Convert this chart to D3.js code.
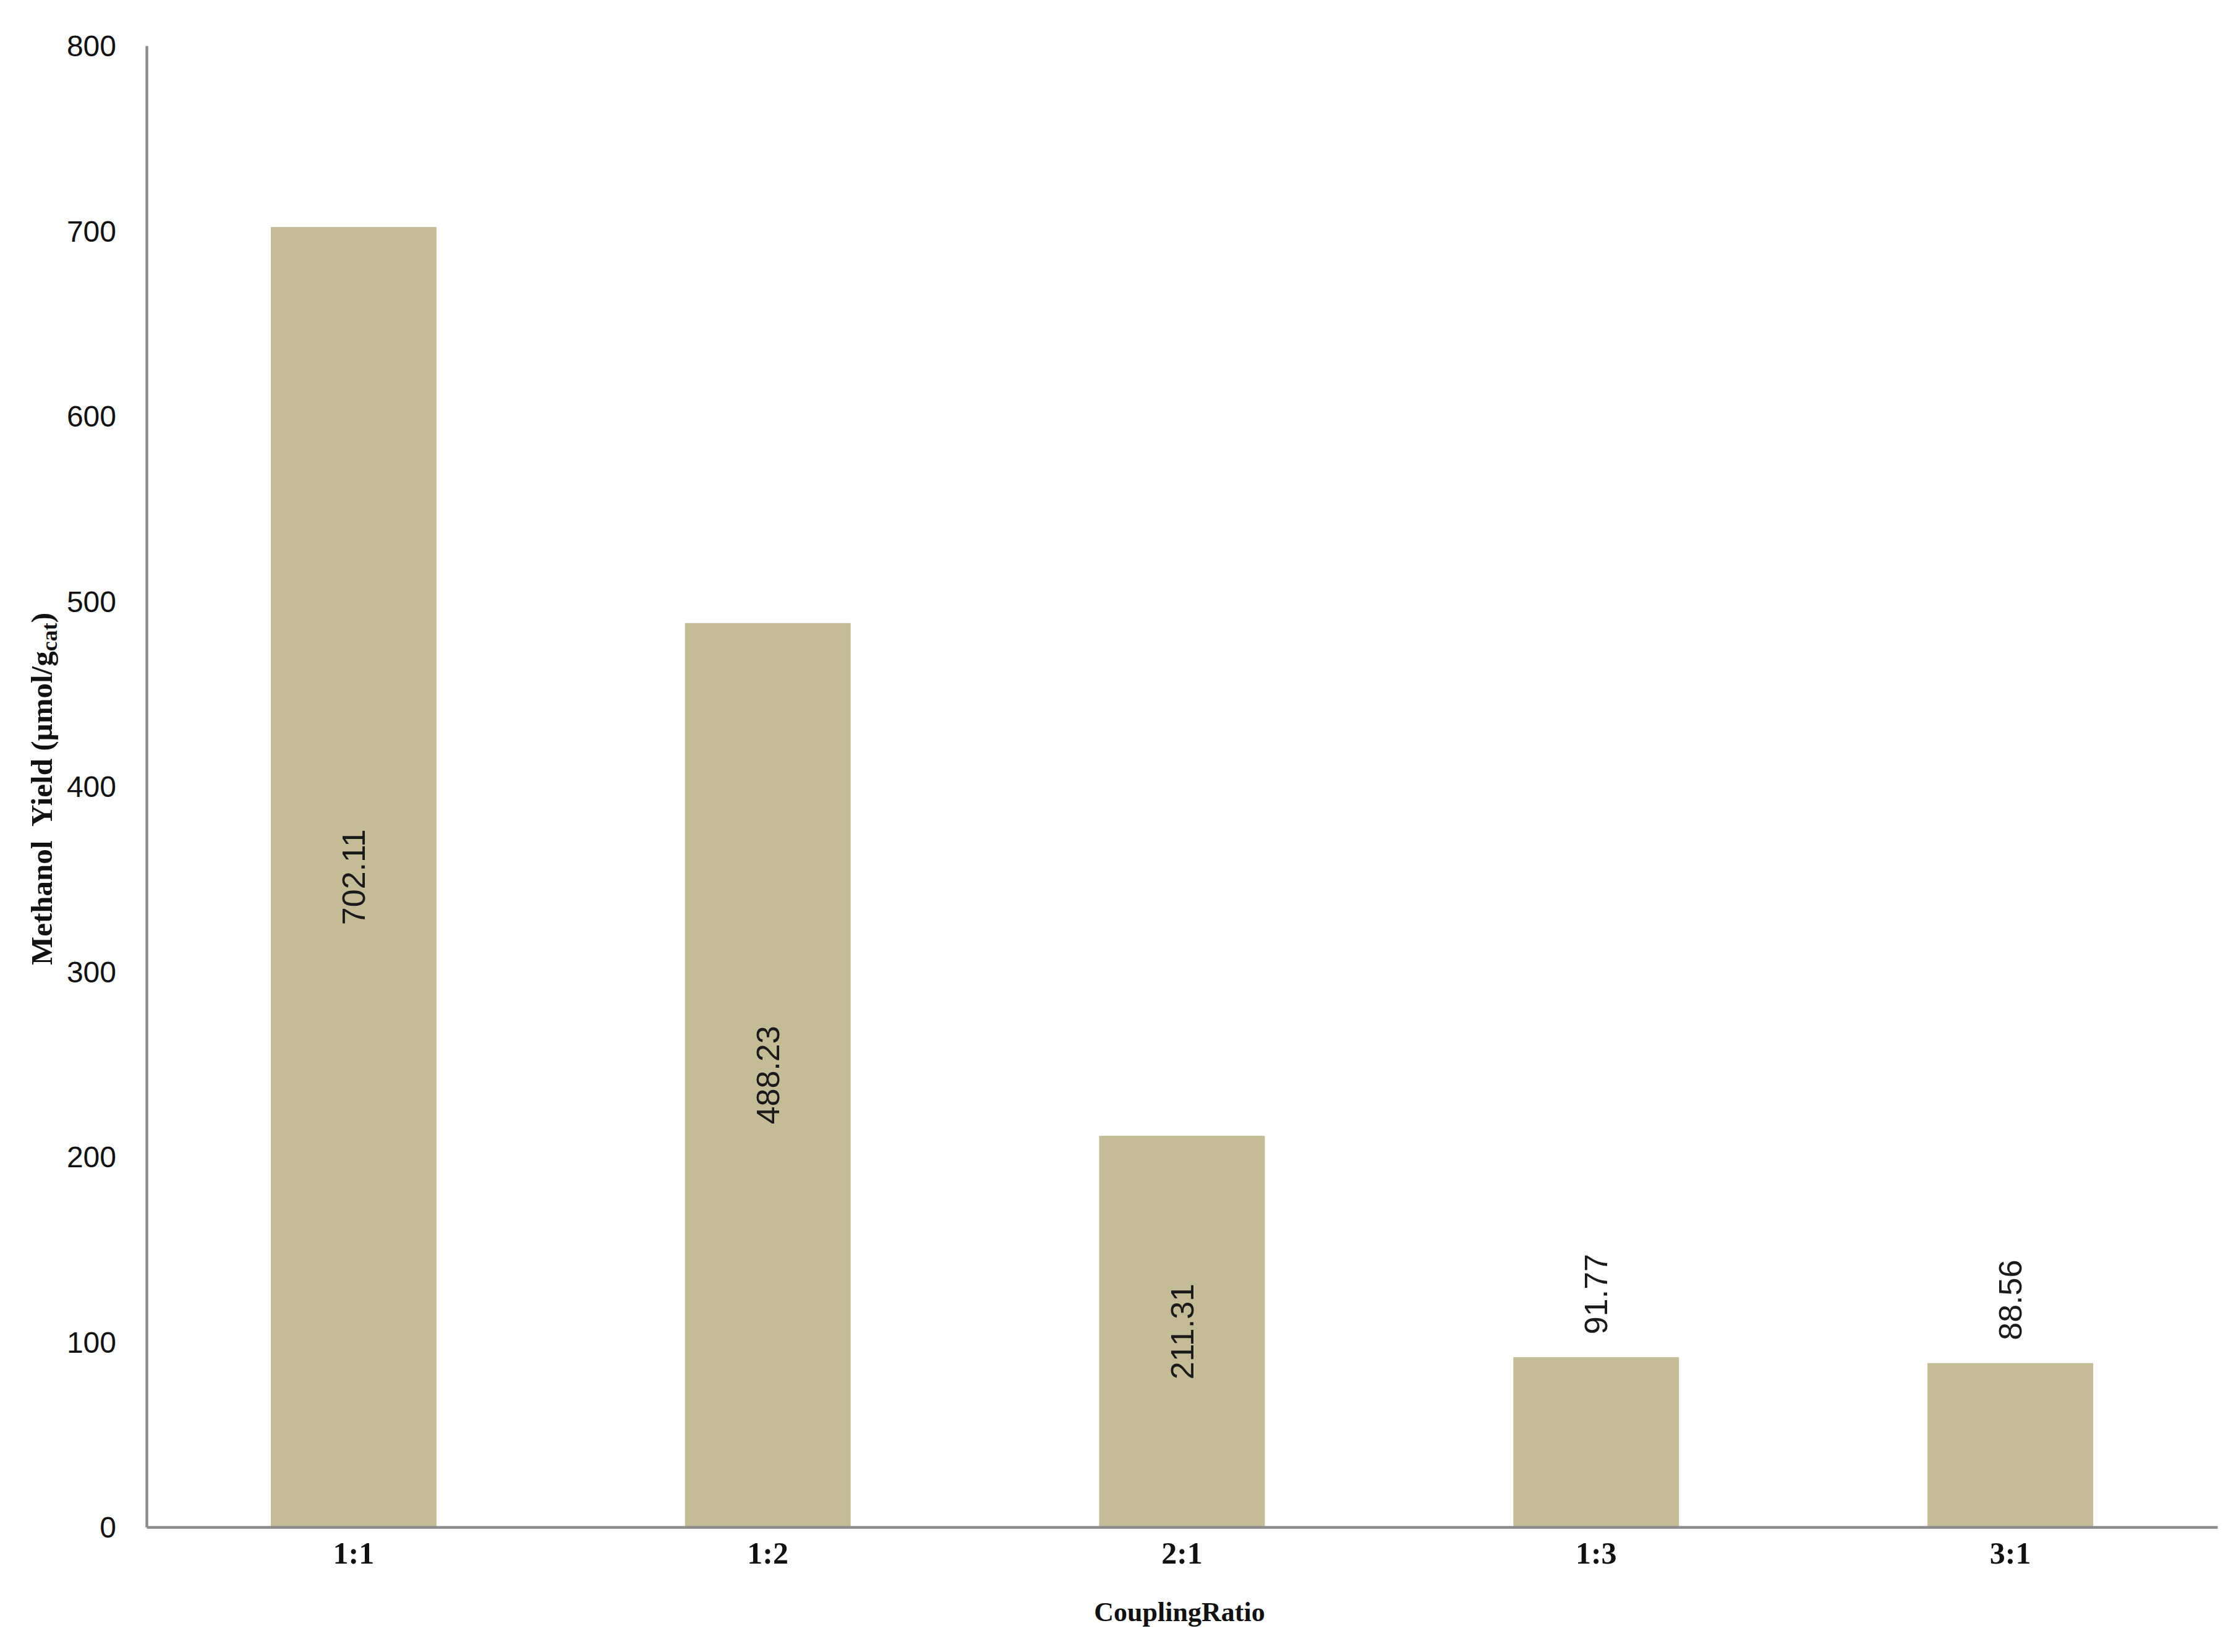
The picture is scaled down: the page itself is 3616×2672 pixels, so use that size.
<!DOCTYPE html>
<html>
<head>
<meta charset="utf-8">
<script src="https://cdn.jsdelivr.net/npm/d3@7"></script>
<style>
	html, body { margin: 0; padding: 0; background: #fff; }
	svg { display: block; }
</style>
</head>
<body>
<div id="chart"></div>
<script>

const categories = ["1:1", "1:2", "2:1", "1:3", "3:1"];
const yields = [702.11, 488.23, 211.31, 91.77, 88.56];
const valueLabels = ["702.11", "488.23", "211.31", "91.77", "88.56"];
const yTicks = [0, 100, 200, 300, 400, 500, 600, 700, 800];

const WIDTH = 3616;
const HEIGHT = 2672;
const BAR_COLOR = "#c4bc96";
const AXIS_COLOR = "#8c8c8c";

const margin = { top: 74, right: 30, bottom: 202, left: 237 };
const width = WIDTH - margin.left - margin.right;
const height = HEIGHT - margin.top - margin.bottom;

const svg = d3.select("#chart").append("svg")
	.attr("width", WIDTH)
	.attr("height", HEIGHT);

const g = svg.append("g")
	.attr("transform", `translate(${margin.left},${margin.top})`);

const x = d3.scaleBand()
	.domain(categories)
	.range([0, width])
	.paddingInner(0.6)
	.paddingOuter(0.3);

const y = d3.scaleLinear()
	.domain([0, 800])
	.range([height, 0]);

// bars
g.selectAll(".bar")
	.data(categories)
	.enter()
	.append("rect")
	.attr("class", "bar")
	.attr("x", d => x(d))
	.attr("y", (d, i) => y(yields[i]))
	.attr("width", x.bandwidth())
	.attr("height", (d, i) => height - y(yields[i]))
	.attr("fill", BAR_COLOR);

// y axis (no tick marks)
const axisY = d3.axisLeft(y)
	.tickValues(yTicks)
	.tickSize(0)
	.tickPadding(49)
	.tickFormat(d3.format("d"));

const gY = g.append("g").call(axisY);
gY.select(".domain").attr("stroke", AXIS_COLOR).attr("stroke-width", 4.5);
gY.selectAll("text")
	.attr("font-family", "'Liberation Sans', Arial, sans-serif")
	.attr("font-size", 48)
	.attr("fill", "#111")
	.attr("dy", "0.35em");

// x axis
const axisX = d3.axisBottom(x)
	.tickSize(0)
	.tickPadding(0);

const gX = g.append("g")
	.attr("transform", `translate(0,${height})`)
	.call(axisX);
gX.select(".domain").attr("stroke", AXIS_COLOR).attr("stroke-width", 4.5);
gX.selectAll("text")
	.attr("font-family", "'Liberation Serif', 'Times New Roman', serif")
	.attr("font-weight", "bold")
	.attr("font-size", 50)
	.attr("fill", "#111")
	.attr("y", 59)
	.attr("dy", 0);

// value labels, rotated; inside the bar when it fits, above it otherwise
const labels = g.selectAll(".value")
	.data(categories)
	.enter()
	.append("text")
	.attr("class", "value")
	.attr("font-family", "'Liberation Sans', Arial, sans-serif")
	.attr("font-size", 52)
	.attr("fill", "#1a1a1a")
	.attr("dominant-baseline", "central")
	.text((d, i) => valueLabels[i]);

labels.each(function (d, i) {
	let cx = x(d) + x.bandwidth() / 2;
	let top = y(yields[i]);
	let barH = height - top;
	let len = this.getComputedTextLength();
	let sel = d3.select(this);
	if (barH > len + 200) {
		sel.attr("text-anchor", "middle")
			.attr("transform", `translate(${cx},${top + barH / 2}) rotate(-90)`);
	} else {
		sel.attr("text-anchor", "start")
			.attr("transform", `translate(${cx},${top - 37}) rotate(-90)`);
	}
});

// axis titles
svg.append("text")
	.attr("x", margin.left + width / 2 - 4)
	.attr("y", 2622)
	.attr("text-anchor", "middle")
	.attr("font-family", "'Liberation Serif', 'Times New Roman', serif")
	.attr("font-weight", "bold")
	.attr("font-size", 44)
	.attr("fill", "#111")
	.text("CouplingRatio");

const yTitle = svg.append("text")
	.attr("transform", "translate(84,1276) rotate(-90)")
	.attr("text-anchor", "middle")
	.attr("font-family", "'Liberation Serif', 'Times New Roman', serif")
	.attr("font-weight", "bold")
	.attr("font-size", 49)
	.attr("fill", "#111");

yTitle.append("tspan").text("Methanol\u00a0 Yield (\u00b5mol/g");
yTitle.append("tspan").attr("font-size", 36).attr("dy", 8).text("cat");
yTitle.append("tspan").attr("dy", -8).text(")");

</script>
</body>
</html>
